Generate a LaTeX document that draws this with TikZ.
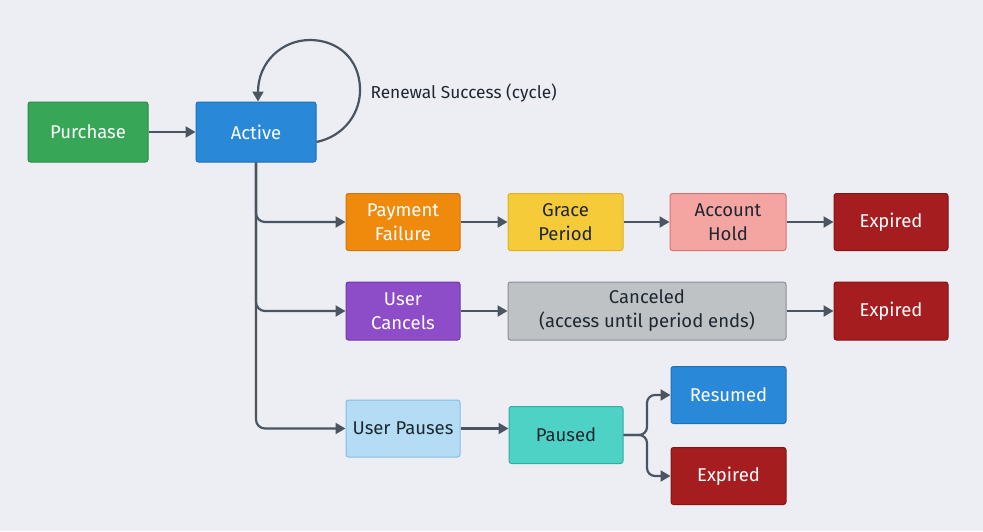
\documentclass[tikz,border=0pt]{standalone}
\usepackage{fontspec}
\setmainfont{Fira Sans}
\usetikzlibrary{arrows.meta}
\definecolor{bgC}{HTML}{ECEEF3}
\definecolor{lineC}{HTML}{4A5561}
\definecolor{txtD}{HTML}{1E2730}
\definecolor{greenF}{HTML}{37A757}\definecolor{greenD}{HTML}{2A8A45}
\definecolor{blueF}{HTML}{2A88D8}\definecolor{blueD}{HTML}{1F6FB5}
\definecolor{orangeF}{HTML}{F08A0C}\definecolor{orangeD}{HTML}{D07508}
\definecolor{yellowF}{HTML}{F6CB3A}\definecolor{yellowD}{HTML}{E0B020}
\definecolor{pinkF}{HTML}{F4A5A2}\definecolor{pinkD}{HTML}{E07070}
\definecolor{redF}{HTML}{A51D1F}\definecolor{redD}{HTML}{861414}
\definecolor{purpleF}{HTML}{8E4DC8}\definecolor{purpleD}{HTML}{7138A8}
\definecolor{grayF}{HTML}{BEC2C5}\definecolor{grayD}{HTML}{8A9096}
\definecolor{lblueF}{HTML}{B4DCF5}\definecolor{lblueD}{HTML}{84BEE6}
\definecolor{tealF}{HTML}{4ED2C6}\definecolor{tealD}{HTML}{2FAFA3}
\tikzset{
  box/.style={rounded corners=2.5pt, line width=1pt, align=center,
    minimum height=57pt, inner sep=2pt,
    font=\fontsize{18.5}{24}\selectfont},
  wbox/.style={box, text=white},
  dbox/.style={box, text=txtD},
  arr/.style={draw=lineC, line width=2.2pt, -{Triangle[length=10pt,width=11pt]}},
}
\begin{document}
\begin{tikzpicture}[x=1pt,y=-1pt]
\fill[bgC] (0,0) rectangle (983,531);
\useasboundingbox (0,0) rectangle (983,531);

\node[wbox, fill=greenF, draw=greenD, minimum width=120pt, minimum height=60pt] (purchase) at (88,132) {Purchase};
\node[wbox, fill=blueF, draw=blueD, minimum width=120pt, minimum height=60pt] (active) at (256,132) {Active};

\node[wbox, fill=orangeF, draw=orangeD, minimum width=114pt] (payfail) at (403,222) {Payment\\Failure};
\node[dbox, fill=yellowF, draw=yellowD, minimum width=115pt] (grace) at (565.5,222) {Grace\\Period};
\node[dbox, fill=pinkF, draw=pinkD, minimum width=116pt] (hold) at (728,222) {Account\\Hold};
\node[wbox, fill=redF, draw=redD, minimum width=114pt] (expA) at (891,222) {Expired};

\node[wbox, fill=purpleF, draw=purpleD, minimum width=114pt, minimum height=58pt] (cancels) at (403,311) {User\\Cancels};
\node[dbox, fill=grayF, draw=grayD, minimum width=278pt, minimum height=58pt] (canceled) at (647,311) {Canceled\\(access until period ends)};
\node[wbox, fill=redF, draw=redD, minimum width=114pt, minimum height=58pt] (expB) at (891,311) {Expired};

\node[dbox, fill=lblueF, draw=lblueD, minimum width=114pt] (pauses) at (403,428.5) {User Pauses};
\node[dbox, fill=tealF, draw=tealD, minimum width=114pt] (paused) at (566,435) {Paused};
\node[wbox, fill=blueF, draw=blueD, minimum width=115pt] (resumed) at (728.5,395) {Resumed};
\node[wbox, fill=redF, draw=redD, minimum width=115pt] (expC) at (728.5,476) {Expired};

\node[anchor=west, text=txtD, font=\fontsize{17.3}{20}\selectfont] (renlbl) at (367,93) {Renewal Success (cycle)};

\draw[arr] (purchase) -- (active);
\draw[arr] ([yshift=-10pt]active.east) .. controls (345,136) and (361,112) .. (360,88)
  .. controls (359,58) and (337,40) .. (310,40)
  .. controls (282,40) and (258,62) .. ([xshift=2pt]active.north);

\draw[arr, rounded corners=9pt] (active.south) |- (payfail.west);
\draw[arr, rounded corners=9pt] (active.south) |- (cancels.west);
\draw[arr, rounded corners=9pt] (active.south) |- (pauses.west);

\draw[arr] (payfail) -- (grace);
\draw[arr] (grace) -- (hold);
\draw[arr] (hold) -- (expA);
\draw[arr] (cancels) -- (canceled);
\draw[arr] (canceled) -- (expB);
\draw[arr] (pauses.east) -- (paused.west |- pauses.east);

\draw[arr, rounded corners=8pt] (paused.east) -- (647,435) -- (647,395) -- (resumed.west);
\draw[arr, rounded corners=8pt] (paused.east) -- (647,435) -- (647,476) -- (expC.west);
\end{tikzpicture}
\end{document}
